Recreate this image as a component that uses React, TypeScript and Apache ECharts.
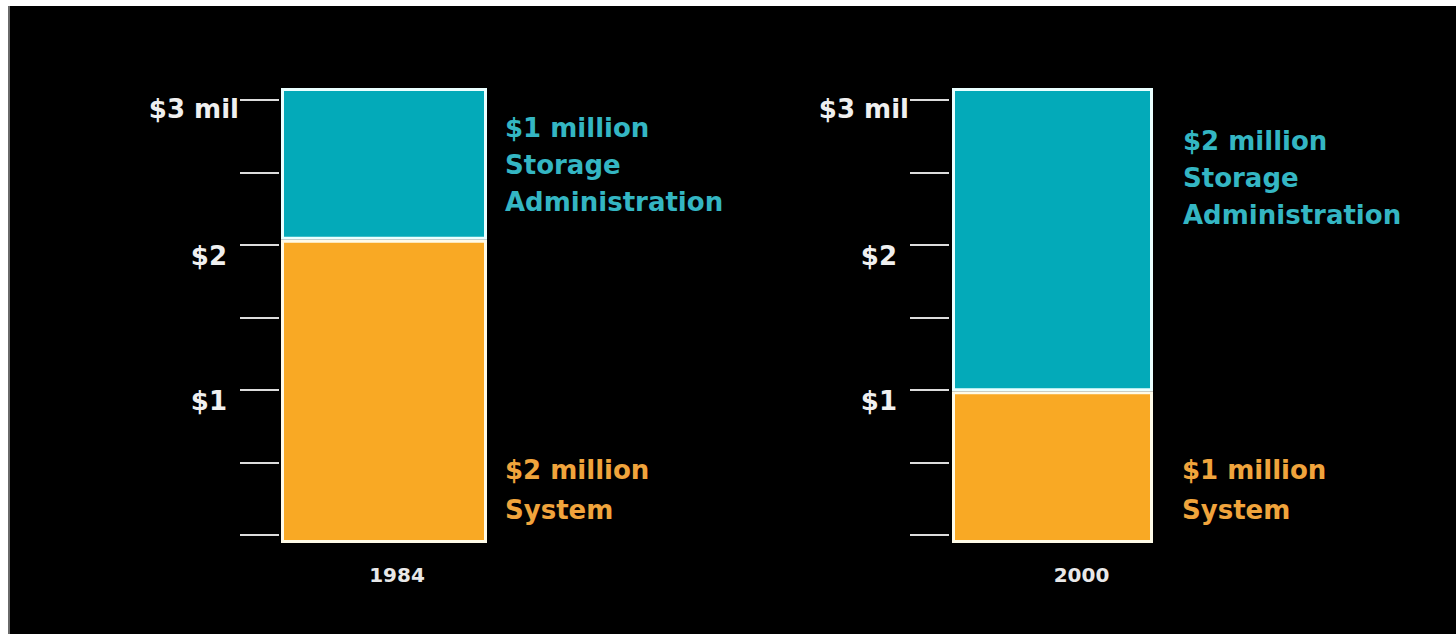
import React, { useEffect, useRef } from "react";
import * as echarts from "echarts";

// ---- data ----
const years = ["1984", "2000"];
const systemValues = [2, 1]; // $ million
const storageAdminValues = [1, 2]; // $ million
const seriesNames = ["System", "Storage Administration"];
const yTickLabels: Record<string, string> = { "1": "$1", "2": "$2", "3": "$3 mil" };
const yMin = 0;
const yMax = 3;
const yInterval = 0.5;

// ---- styling / layout ----
const FONT = "DejaVu Sans";
const TEAL_BAR = "#03AAB9";
const ORANGE_BAR = "#F9A924";
const TEAL_TEXT = "#34B6C3";
const ORANGE_TEXT = "#F0A43C";
const panels = [
  { barLeft: 281, barWidth: 206, tickLeft: 279, tealOffset: [18, 21], orangeOffset: [18, -93], yearPad: 26 },
  { barLeft: 952, barWidth: 201, tickLeft: 949, tealOffset: [30, 34], orangeOffset: [29, -93], yearPad: 58 },
];

export default function App() {
  const ref = useRef<HTMLDivElement>(null);
  useEffect(() => {
    if (!ref.current) return;
    const chart = echarts.init(ref.current, undefined, { renderer: "svg" });

    const grid: any[] = [];
    const xAxis: any[] = [];
    const yAxis: any[] = [];
    const series: any[] = [];

    panels.forEach((p, i) => {
      const barGrid = grid.length;
      grid.push({ left: p.barLeft, top: 88, width: p.barWidth, height: 455, containLabel: false });
      const tickGrid = grid.length;
      grid.push({ left: p.tickLeft, top: 100, width: p.barWidth, height: 435, containLabel: false });

      // bar grid axes
      xAxis.push({
        type: "category",
        gridIndex: barGrid,
        data: [years[i]],
        axisLine: { show: false },
        axisTick: { show: false },
        axisLabel: {
          margin: 22,
          color: "#e8e8e8",
          fontFamily: FONT,
          fontWeight: "bold",
          fontSize: 20,
          padding: [0, 0, 0, p.yearPad],
        },
      });
      yAxis.push({
        type: "value",
        gridIndex: barGrid,
        min: yMin,
        max: yMax,
        show: false,
        splitLine: { show: false },
      });
      // tick grid axes
      xAxis.push({ type: "category", gridIndex: tickGrid, data: [years[i]], show: false });
      yAxis.push({
        type: "value",
        gridIndex: tickGrid,
        min: yMin,
        max: yMax,
        interval: yInterval,
        axisLine: { show: false },
        splitLine: { show: false },
        axisTick: { show: true, length: 39, lineStyle: { color: "#dcdcdc", width: 2 } },
        axisLabel: {
          margin: 40,
          formatter: (v: number) => {
            const t = yTickLabels[String(v)];
            if (!t) return "";
            return v === yMax ? `{a|${t}}` : `{b|${t}}`;
          },
          rich: {
            a: { color: "#f0f0f0", fontFamily: FONT, fontWeight: "bold", fontSize: 26, padding: [18, 0, 0, 0] },
            b: { color: "#f0f0f0", fontFamily: FONT, fontWeight: "bold", fontSize: 26, padding: [22, 12, 0, 0] },
          },
        },
      });

      const xIdx = barGrid;
      const yIdx = barGrid;
      series.push({
        name: seriesNames[0],
        type: "bar",
        xAxisIndex: xIdx,
        yAxisIndex: yIdx,
        stack: "s" + i,
        barWidth: "100%",
        data: [systemValues[i]],
        itemStyle: { color: ORANGE_BAR, borderColor: "#fffbe8", borderWidth: 3 },
        label: {
          show: true,
          position: ["100%", "100%"],
          offset: p.orangeOffset,
          align: "left",
          verticalAlign: "top",
          formatter: (prm: any) => `{o|$${prm.value} million}\n{o|${prm.seriesName}}`,
          rich: {
            o: { color: ORANGE_TEXT, fontFamily: FONT, fontWeight: "bold", fontSize: 26, lineHeight: 40 },
          },
        },
      });
      series.push({
        name: seriesNames[1],
        type: "bar",
        xAxisIndex: xIdx,
        yAxisIndex: yIdx,
        stack: "s" + i,
        barWidth: "100%",
        data: [storageAdminValues[i]],
        itemStyle: { color: TEAL_BAR, borderColor: "#eaffff", borderWidth: 3 },
        label: {
          show: true,
          position: ["100%", 0],
          offset: p.tealOffset,
          align: "left",
          verticalAlign: "top",
          formatter: (prm: any) =>
            `{t|$${prm.value} million}\n` +
            String(prm.seriesName)
              .split(" ")
              .map((w: string) => `{t|${w}}`)
              .join("\n"),
          rich: {
            t: { color: TEAL_TEXT, fontFamily: FONT, fontWeight: "bold", fontSize: 26, lineHeight: 37 },
          },
        },
      });
    });

    chart.setOption({
      animation: false,
      backgroundColor: "#000000",
      grid,
      xAxis,
      yAxis,
      series,
      graphic: [
        { type: "rect", shape: { x: 0, y: 0, width: 1456, height: 6 }, style: { fill: "#ffffff" }, z: 100 },
        { type: "rect", shape: { x: 0, y: 0, width: 9, height: 634 }, style: { fill: "#ffffff" }, z: 100 },
        { type: "rect", shape: { x: 8, y: 6, width: 2, height: 628 }, style: { fill: "#6a6a6a" }, z: 100 },
      ],
    });

    return () => chart.dispose();
  }, []);

  return (
    <div
      ref={ref}
      style={{ position: "fixed", left: 0, top: 0, width: 1456, height: 634 }}
    />
  );
}
